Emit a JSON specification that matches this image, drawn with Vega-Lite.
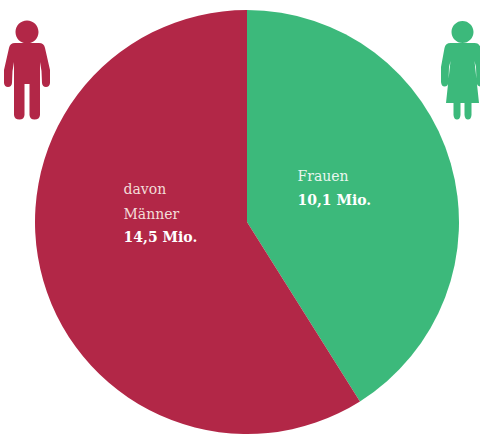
{
"$schema":"https://vega.github.io/schema/vega-lite/v6.json",
"width":466,"height":424,
"autosize":{"type":"none"},
"padding":{"left":14,"top":10,"right":0,"bottom":0},
"background":"white",
"view":{"stroke":null},
"data":{"values":[
{"slice":"Frauen","value":10.1,"name":"Frauen","amount":"10,1 Mio."},
{"slice":"Männer","value":14.5,"name":"davon\nMänner","amount":"14,5 Mio."}
]},
"layer":[
{"mark":{"type":"arc","outerRadius":212,"stroke":null},
 "encoding":{"theta":{"field":"value","type":"quantitative","stack":true,"scale":{"range":[0,6.2832]}},
  "color":{"field":"slice","type":"nominal","legend":null,"sort":["Frauen","Männer"],"scale":{"domain":["Frauen","Männer"],"range":["#3CB97B","#B22747"]}}}},
{"mark":{"type":"text","align":"left","baseline":"alphabetic","font":"DejaVu Serif","fontSize":14,"radius":90,"dx":-36,"dy":-16,"fill":"#EAF6EF"},
 "encoding":{"theta":{"field":"value","type":"quantitative","stack":true},"detail":{"field":"slice"},
 "text":{"condition":{"test":"datum.slice==='Männer'","value":""},"field":"name"}}},
{"mark":{"type":"text","align":"left","baseline":"alphabetic","font":"DejaVu Serif","fontSize":14,"fontWeight":"bold","radius":90,"dx":-36,"dy":8,"fill":"#FFFFFF"},
 "encoding":{"theta":{"field":"value","type":"quantitative","stack":true},"detail":{"field":"slice"},
 "text":{"condition":{"test":"datum.slice==='Männer'","value":""},"field":"amount"}}},
{"mark":{"type":"text","align":"left","baseline":"alphabetic","font":"DejaVu Serif","fontSize":14,"lineBreak":"\n","lineHeight":25,"radius":90,"dx":-37,"dy":-53,"fill":"#F3DDD9"},
 "encoding":{"theta":{"field":"value","type":"quantitative","stack":true},"detail":{"field":"slice"},
 "text":{"condition":{"test":"datum.slice==='Frauen'","value":""},"field":"name"}}},
{"mark":{"type":"text","align":"left","baseline":"alphabetic","font":"DejaVu Serif","fontSize":14,"fontWeight":"bold","radius":90,"dx":-37,"dy":-5,"fill":"#FFFFFF"},
 "encoding":{"theta":{"field":"value","type":"quantitative","stack":true},"detail":{"field":"slice"},
 "text":{"condition":{"test":"datum.slice==='Frauen'","value":""},"field":"amount"}}},
{"mark":{"type":"point","filled":true,"size":4,"opacity":1},
 "encoding":{
  "x":{"field":"slice","type":"nominal","axis":null,"scale":{"type":"point","padding":0,"domain":["Männer","Frauen"],"range":[13,448.5]}},
  "y":{"field":"slice","type":"nominal","axis":null,"scale":{"type":"point","padding":0,"domain":["Männer","Frauen"],"range":[60,60]}},
  "color":{"field":"slice","type":"nominal","legend":null,"scale":{"domain":["Frauen","Männer"],"range":["#3CB97B","#B22747"]}},
  "shape":{"field":"slice","type":"nominal","legend":null,"scale":{"domain":["Männer","Frauen"],"range":[
   "M0,-49.5A11.5,11.5 0 1 1 0,-26.5A11.5,11.5 0 1 1 0,-49.5Z M-12,-27L12,-27Q17,-27 18,-22L23,0L23,13Q22.5,17 19,17Q15.5,17 15,13L14.5,1L13,-8L13,45Q12.5,49.5 7.5,49.5Q3,49.5 2.5,45L2.5,14L-2.5,14L-2.5,45Q-3,49.5 -7.5,49.5Q-12.5,49.5 -13,45L-13,-8L-14.5,1L-15,13Q-15.5,17 -19,17Q-22.5,17 -23,13L-23,0L-18,-22Q-17,-27 -12,-27Z",
   "M0,-49A11,11 0 1 1 0,-27A11,11 0 1 1 0,-49Z M-12,-27L12,-27Q17,-27 18,-22L21.5,-3L21.5,12Q21,16.5 18,16.5Q14.5,16.5 14,12L13.5,-3L12,-9L16.5,33L9,33L9,45Q8.5,49.5 5.5,49.5Q2.5,49.5 2,45L2,33L-2,33L-2,45Q-2.5,49.5 -5.5,49.5Q-8.5,49.5 -9,45L-9,33L-16.5,33L-12,-9L-13.5,-3L-14,12Q-14.5,16.5 -18,16.5Q-21,16.5 -21.5,12L-21.5,-3L-18,-22Q-17,-27 -12,-27Z"
  ]}}
 }}
],
"resolve":{"scale":{"x":"independent","y":"independent","theta":"shared"}}
}
